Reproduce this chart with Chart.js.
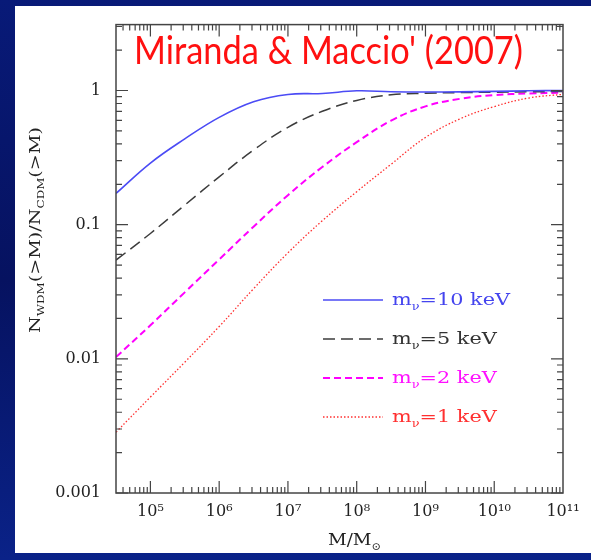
<!DOCTYPE html>
<html>
<head>
<meta charset="utf-8">
<script src="https://cdn.jsdelivr.net/npm/chart.js@4.4.0/dist/chart.umd.min.js"></script>
<style>
  html, body { margin: 0; padding: 0; background: #071466; overflow: hidden; }
  #c { display: block; }
</style>
</head>
<body>
<canvas id="c" width="591" height="560"></canvas>
<script>
// halo mass grid (M / Msun), half-decade steps
const massGrid = [3.16e4, 1e5, 3.16e5, 1e6, 3.16e6, 1e7, 3.16e7, 1e8, 3.16e8, 1e9, 3.16e9, 1e10, 3.16e10, 1e11];

// N_WDM(>M) / N_CDM(>M)
const ratio10keV = [0.171, 0.288, 0.436, 0.631, 0.825, 0.935, 0.95, 0.995, 0.98, 0.975, 0.977, 0.985, 0.995, 1.0];
const ratio5keV  = [0.0545, 0.086, 0.14, 0.227, 0.36, 0.532, 0.70, 0.843, 0.93, 0.955, 0.965, 0.972, 0.978, 0.983];
const ratio2keV  = [0.0103, 0.0178, 0.0313, 0.055, 0.0966, 0.166, 0.269, 0.412, 0.596, 0.762, 0.867, 0.925, 0.95, 0.962];
const ratio1keV  = [0.00284, 0.00519, 0.00944, 0.0174, 0.0333, 0.0617, 0.107, 0.176, 0.282, 0.447, 0.614, 0.759, 0.879, 0.937];

const seriesNames = ['10', '5', '2', '1'];   // m_nu in keV
const xTickExps = [5, 6, 7, 8, 9, 10, 11];
const yTickValues = [0.001, 0.01, 0.1, 1];

const SERIF = '"DejaVu Serif", "Liberation Serif", serif';
const supDigits = {'0':'⁰','1':'¹','2':'²','3':'³','4':'⁴','5':'⁵','6':'⁶','7':'⁷','8':'⁸','9':'⁹'};

function toPoints(ys) {
  return massGrid.map((m, i) => ({ x: m, y: ys[i] }));
}

// text with subscripts, stretched horizontally by sx
function richWidth(ctx, parts, size) {
  let w = 0;
  parts.forEach(p => {
    ctx.font = (p.sub ? size * 0.62 : size) + 'px ' + SERIF;
    w += ctx.measureText(p.t).width;
  });
  return w;
}
function drawRich(ctx, parts, x, y, size, color, sx) {
  ctx.save();
  ctx.translate(x, y);
  ctx.scale(sx, 1);
  ctx.fillStyle = color;
  ctx.textAlign = 'left';
  ctx.textBaseline = 'alphabetic';
  let cx = 0;
  parts.forEach(p => {
    ctx.font = (p.sub ? size * 0.62 : size) + 'px ' + SERIF;
    ctx.fillText(p.t, cx, p.sub ? size * 0.28 : 0);
    cx += ctx.measureText(p.t).width;
  });
  ctx.restore();
}

const decor = {
  id: 'decor',
  beforeDraw(chart) {
    const ctx = chart.ctx;
    ctx.save();
    const g = ctx.createLinearGradient(0, 0, 0, 560);
    g.addColorStop(0, '#081a78');
    g.addColorStop(0.5, '#061260');
    g.addColorStop(1, '#0a2288');
    ctx.fillStyle = g;
    ctx.fillRect(0, 0, 591, 560);
    ctx.fillStyle = '#ffffff';
    ctx.fillRect(15, 6, 576, 547);
    ctx.restore();
  },
  afterDatasetsDraw(chart) {
    const ctx = chart.ctx;
    const a = chart.chartArea;
    const xs = chart.scales.x, ys = chart.scales.y;
    ctx.save();
    ctx.strokeStyle = '#444';
    ctx.lineWidth = 1.5;
    ctx.strokeRect(a.left, a.top, a.right - a.left, a.bottom - a.top);

    ctx.lineWidth = 1.2;
    ctx.beginPath();
    // x ticks on bottom and top
    for (let e = 4; e <= 10; e++) {
      for (let k = 1; k <= 9; k++) {
        const v = k * Math.pow(10, e);
        if (v < xs.min || v > xs.max) continue;
        const px = xs.getPixelForValue(v);
        const len = k === 1 ? 12 : 6;
        ctx.moveTo(px, a.bottom); ctx.lineTo(px, a.bottom - len);
        ctx.moveTo(px, a.top); ctx.lineTo(px, a.top + len);
      }
    }
    // y ticks on left and right
    for (let e = -3; e <= 0; e++) {
      for (let k = 1; k <= 9; k++) {
        const v = k * Math.pow(10, e);
        if (v < ys.min || v > ys.max) continue;
        const py = ys.getPixelForValue(v);
        const len = k === 1 ? 12 : 6;
        ctx.moveTo(a.left, py); ctx.lineTo(a.left + len, py);
        ctx.moveTo(a.right, py); ctx.lineTo(a.right - len, py);
      }
    }
    ctx.stroke();

    // title inside the plot
    ctx.font = '38px Lato, "Open Sans", sans-serif';
    const title = "Miranda & Maccio' (2007)";
    const tw = ctx.measureText(title).width;
    ctx.save();
    ctx.translate(134, 64);
    ctx.scale(389 / tw, 1);
    ctx.fillStyle = '#ff1010';
    ctx.textAlign = 'left';
    ctx.textBaseline = 'alphabetic';
    ctx.fillText(title, 0, 0);
    ctx.restore();

    // legend
    const legParts = n => [{ t: 'm' }, { t: 'ν', sub: true }, { t: '=' + n + ' keV' }];
    const size = 17;
    const sx = 118 / richWidth(ctx, legParts('10'), size);
    chart.data.datasets.forEach((ds, i) => {
      const ly = 300 + i * 39;
      ctx.save();
      ctx.strokeStyle = ds.borderColor;
      ctx.lineWidth = ds.borderWidth;
      ctx.setLineDash(ds.borderDash || []);
      ctx.beginPath();
      ctx.moveTo(323, ly);
      ctx.lineTo(383, ly);
      ctx.stroke();
      ctx.restore();
      drawRich(ctx, legParts(seriesNames[i]), 392, ly + 5, size, ds.legendText, sx);
    });

    // y axis title
    const yParts = [{ t: 'N' }, { t: 'WDM', sub: true }, { t: '(>M)/N' }, { t: 'CDM', sub: true }, { t: '(>M)' }];
    const ySize = 15;
    const ysx = 206 / richWidth(ctx, yParts, ySize);
    ctx.save();
    ctx.translate(40, 230);
    ctx.rotate(-Math.PI / 2);
    drawRich(ctx, yParts, -103, 0, ySize, '#222', ysx);
    ctx.restore();

    // x axis title
    const xParts = [{ t: 'M/M' }, { t: '⊙', sub: true }];
    const xSize = 17;
    const xsx = 53 / richWidth(ctx, xParts, xSize);
    drawRich(ctx, xParts, 328, 545, xSize, '#222', xsx);
    ctx.restore();
  }
};

new Chart(document.getElementById('c'), {
  type: 'scatter',
  data: {
    datasets: [
      { label: 'm_nu=10 keV', data: toPoints(ratio10keV), borderColor: '#4b4bf5', legendText: '#4444ee', borderWidth: 1.6, borderDash: [] },
      { label: 'm_nu=5 keV',  data: toPoints(ratio5keV),  borderColor: '#3c3c3c', legendText: '#333333', borderWidth: 1.5, borderDash: [12, 6] },
      { label: 'm_nu=2 keV',  data: toPoints(ratio2keV),  borderColor: '#ff00ff', legendText: '#ff10ff', borderWidth: 2, borderDash: [7, 4] },
      { label: 'm_nu=1 keV',  data: toPoints(ratio1keV),  borderColor: '#ff3030', legendText: '#ff3030', borderWidth: 1.3, borderDash: [1.5, 2] }
    ].map(d => Object.assign(d, { showLine: true, pointRadius: 0, fill: false, tension: 0.4 }))
  },
  options: {
    responsive: false,
    animation: false,
    devicePixelRatio: 1,
    layout: { padding: { left: 0, right: 28, top: 23, bottom: 0 } },
    plugins: { legend: { display: false }, tooltip: { enabled: false } },
    scales: {
      x: {
        type: 'logarithmic',
        min: 3.16e4,
        max: 1e11,
        grid: { display: false, drawTicks: false },
        border: { display: false },
        afterBuildTicks: s => { s.ticks = xTickExps.map(e => ({ value: Math.pow(10, e) })); },
        afterFit: s => { s.height = 67; },
        ticks: {
          autoSkip: false,
          maxRotation: 0,
          padding: 9,
          color: '#222',
          font: { family: SERIF, size: 16 },
          callback: v => '10' + String(Math.round(Math.log10(v))).split('').map(d => supDigits[d]).join('')
        }
      },
      y: {
        type: 'logarithmic',
        min: 0.001,
        max: 3.1,
        grid: { display: false, drawTicks: false },
        border: { display: false },
        afterBuildTicks: s => { s.ticks = yTickValues.map(v => ({ value: v })); },
        afterFit: s => { s.width = 116; },
        ticks: {
          autoSkip: false,
          padding: 15,
          color: '#222',
          font: { family: SERIF, size: 16 },
          callback: v => String(v)
        }
      }
    }
  },
  plugins: [decor]
});
</script>
</body>
</html>
